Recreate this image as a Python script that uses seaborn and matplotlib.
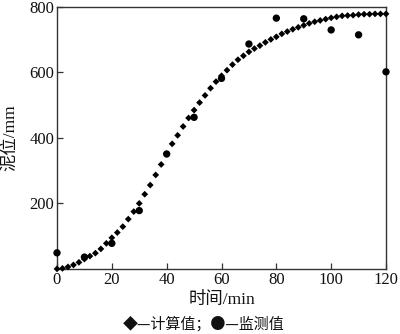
import matplotlib
matplotlib.use("Agg")
import matplotlib.pyplot as plt
import seaborn as sns
import pandas as pd

# Computed mud level (every 2 min)
calc_time = list(range(0, 122, 2))
calc_level = [0, 1.5, 6, 12, 20, 30, 39, 48, 61, 78,
              95, 111, 129, 152, 175, 200, 228, 256, 287, 319,
              351, 382, 408, 435, 461, 485, 508, 530, 552, 572,
              590, 607, 624, 639, 651, 663, 673, 682, 692, 701,
              709, 718, 725, 732, 738, 744, 750, 755, 759, 763,
              767, 770, 773, 774, 775, 777, 778, 778, 779, 779,
              779]

# Monitored mud level
obs_time = [0, 10, 20, 30, 40, 50, 60, 70, 80, 90, 100, 110, 120]
obs_level = [49, 36, 78, 178, 351, 463, 582, 687, 766, 764, 730, 715, 602]

calc = pd.DataFrame({"t": calc_time, "h": calc_level})
obs = pd.DataFrame({"t": obs_time, "h": obs_level})

sns.set_theme(style="ticks")
plt.rcParams["font.family"] = ["Liberation Serif", "Noto Sans CJK SC", "DejaVu Sans"]
plt.rcParams["xtick.direction"] = "in"
plt.rcParams["ytick.direction"] = "in"

fig = plt.figure(figsize=(4.0, 3.34), dpi=100)
ax = fig.add_axes([0.1425, 0.195, 0.8225, 0.784])

sns.scatterplot(data=calc, x="t", y="h", marker="D", s=12, color="black",
                edgecolor="none", ax=ax, clip_on=False, zorder=3)
sns.scatterplot(data=obs, x="t", y="h", marker="o", s=28, color="black",
                edgecolor="none", ax=ax, clip_on=False, zorder=4)

ax.set_xlim(0, 120)
ax.set_ylim(0, 800)
ax.set_xticks([0, 20, 40, 60, 80, 100, 120])
ax.set_yticks([200, 400, 600, 800])
ax.tick_params(axis="both", labelsize=12, length=4, width=0.9, color="#333333",
               labelcolor="#111111", pad=2, top=False, right=False)
for sp in ax.spines.values():
    sp.set_color("#333333")
    sp.set_linewidth(1.0)

ax.set_xlabel("时间/min", fontsize=12.5, labelpad=3, color="#111111")
ax.set_ylabel("泥位/mm", fontsize=12.5, labelpad=3, color="#111111")
ax.yaxis.set_label_coords(-0.118, 0.5)

fig.text(0.51, 0.03, "◆—计算值；●—监测值", ha="center", va="center",
         fontsize=10.8, color="#111111", family=["Noto Sans CJK SC", "DejaVu Sans"])

fig.savefig("out.png", dpi=100)
